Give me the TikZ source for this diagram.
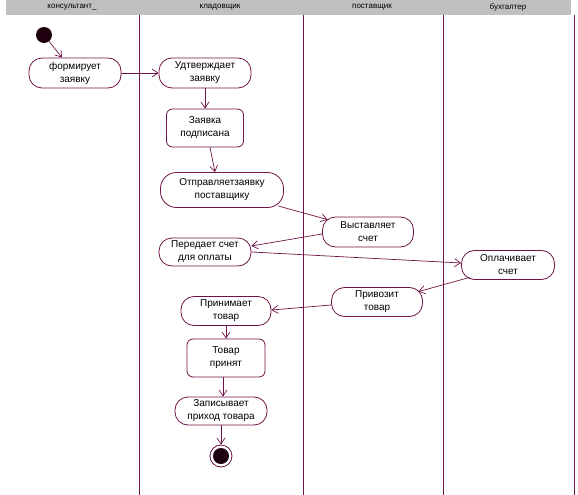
\documentclass[tikz,border=0pt]{standalone}
\usepackage{fontspec}
\setmainfont{Liberation Sans}
\usetikzlibrary{arrows.meta}
\definecolor{ln}{RGB}{110,20,70}
\definecolor{hd}{RGB}{192,192,192}
\definecolor{blob}{RGB}{30,0,15}
\begin{document}
\begin{tikzpicture}[x=1pt,y=-1pt,
  act/.style={draw=ln, line width=0.8pt, rounded corners=13pt, align=center,
    font=\fontsize{10}{13}\selectfont, inner sep=0pt, minimum width=92pt, minimum height=29pt},
  stbox/.style={draw=ln, line width=0.8pt, rounded corners=6pt, align=center,
    font=\fontsize{10}{13}\selectfont, inner sep=0pt, minimum width=78pt, minimum height=38pt},
  flow/.style={draw=ln, line width=0.7pt, -{Straight Barb[length=6pt,width=8pt]}},
  lane/.style={draw=ln, line width=0.9pt},
  hdr/.style={font=\fontsize{8}{9}\selectfont, inner sep=0pt}]
\useasboundingbox (0,0) rectangle (578,495);
\fill[hd] (6,0) rectangle (571,15);
\node[hdr] (h1) at (72,7.5) {консультант\_};
\node[hdr] (h2) at (220,7.5) {кладовщик};
\node[hdr] (h3) at (372,7.5) {поставщик};
\node[hdr] (h4) at (508,7.5) {бухгалтер};
\draw[lane] (139,15) -- (139,495);
\draw[lane] (303,15) -- (303,495);
\draw[lane] (443,15) -- (443,495);
\draw[lane] (574,15) -- (574,495);

\node[circle, fill=blob, inner sep=0pt, minimum size=16pt] (s) at (44,35) {};
\node[act, minimum height=30pt] (f) at (75,73) {формирует\\заявку};
\node[act, minimum height=30pt] (u) at (205,73) {Удтверждает\\заявку};
\node[stbox, minimum width=77pt] (z) at (205,128) {Заявка\\подписана};
\node[act, minimum width=123pt, minimum height=35pt, rounded corners=16pt] (o) at (222,190) {Отправляетзаявку\\поставщику};
\node[act, minimum width=91pt, minimum height=30pt] (v) at (368,232) {Выставляет\\счет};
\node[act, minimum height=28pt] (p) at (205,252) {Передает счет\\для оплаты};
\node[act, minimum width=93pt] (b) at (508,265) {Оплачивает\\счет};
\node[act, minimum width=91pt] (r) at (377,302) {Привозит\\товар};
\node[act, minimum width=90pt] (a) at (226,311) {Принимает\\товар};
\node[stbox] (t) at (226,358) {Товар\\принят};
\node[act, minimum height=28pt] (w) at (221,411) {Записывает\\приход товара};
\node[circle, draw=ln, line width=0.8pt, inner sep=0pt, minimum size=22pt] (e) at (221,456) {};
\fill[blob] (e.center) circle (8pt);

\draw[flow] (s) -- ([shift={(-13,0)}]f.north);
\draw[flow] (f.east) -- (u.west);
\draw[flow] (u.south) -- (z.north);
\draw[flow] ([shift={(5,0)}]z.south) -- ([shift={(-7,0)}]o.north);
\draw[flow] ([shift={(-6,-2)}]o.south east) -- ([shift={(5.5,3)}]v.north west);
\draw[flow] ([shift={(0,2)}]v.west) -- ([shift={(0,-6)}]p.east);
\draw[flow] (p.east) -- ([shift={(0,-2)}]b.west);
\draw[flow] ([shift={(8.5,-2.5)}]b.south west) -- ([shift={(-4.5,4.5)}]r.north east);
\draw[flow] ([shift={(0,3)}]r.west) -- ([shift={(0,-1)}]a.east);
\draw[flow] (a.south) -- (t.north);
\draw[flow] ([shift={(-3,0)}]t.south) -- ([shift={(2,0)}]w.north);
\draw[flow] (w.south) -- (e.north);
\end{tikzpicture}
\end{document}
